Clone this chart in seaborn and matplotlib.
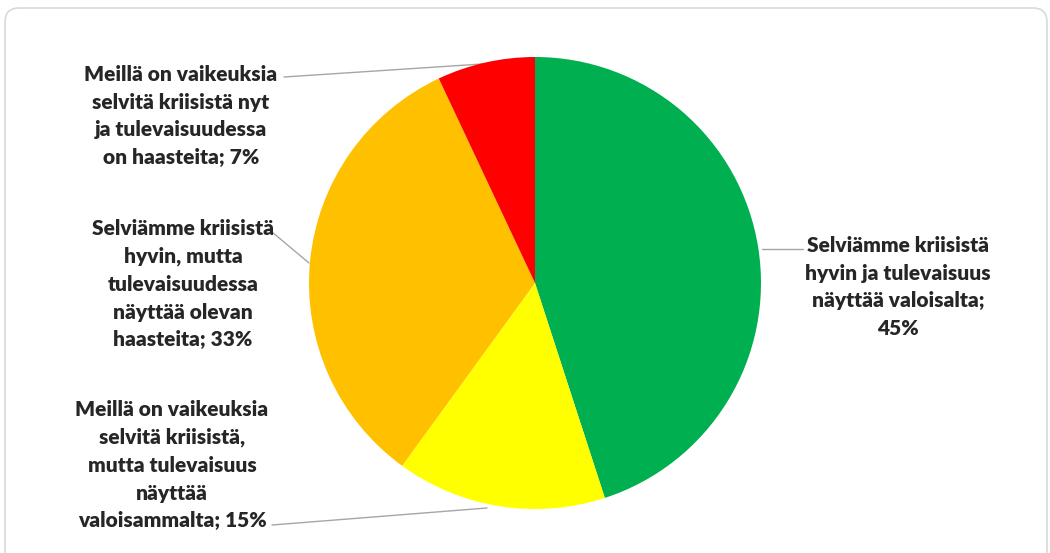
import matplotlib
matplotlib.use("Agg")
import matplotlib.pyplot as plt
from matplotlib.patches import FancyBboxPatch
import seaborn as sns

# ---- data ----
categories = [
    "Selviämme kriisistä\nhyvin ja tulevaisuus\nnäyttää valoisalta",
    "Meillä on vaikeuksia\nselvitä kriisistä,\nmutta tulevaisuus\nnäyttää\nvaloisammalta",
    "Selviämme kriisistä\nhyvin, mutta\ntulevaisuudessa\nnäyttää olevan\nhaasteita",
    "Meillä on vaikeuksia\nselvitä kriisistä nyt\nja tulevaisuudessa\non haasteita",
]
values = [45, 15, 33, 7]
colors = ["#00B050", "#FFFF00", "#FFC000", "#FF0000"]

sns.set_theme(style="white")
plt.rcParams["font.family"] = ["Lato", "DejaVu Sans"]

W, H = 1050, 553
fig = plt.figure(figsize=(W / 100, H / 100), dpi=100)
ax = fig.add_axes([0, 0, 1, 1])

# border
ax.add_patch(FancyBboxPatch((5, -20), 1042, H - 8 + 20, boxstyle="round,pad=0,rounding_size=14",
                            fc="white", ec="#d9d9d9", lw=1.2, zorder=0))

cx, cy, r = 535, H - 283, 226
wedges, _ = ax.pie(values, colors=colors, startangle=90, counterclock=False,
                   center=(cx, cy), radius=r, frame=True,
                   wedgeprops=dict(linewidth=0, zorder=2))
ax.set_xlim(0, W)
ax.set_ylim(0, H)
ax.set_aspect("equal")
ax.axis("off")

# label layout (pixel coords, y from top): text center, leader line start/end
layout = [
    dict(x=898, y=287, line=[(803, 249), (762, 249)]),
    dict(x=172, y=465, line=[(272, 525), (487, 508)]),
    dict(x=183, y=284, line=[(272, 232), (309, 263)]),
    dict(x=181, y=116, line=[(284, 77), (482, 64)]),
]
for cat, v, L in zip(categories, values, layout):
    txt = f"{cat}; {v}%"
    if v == 45:
        txt = f"{cat};\n{v}%"
    ax.text(L["x"], H - L["y"], txt, ha="center", va="center", fontsize=15,
            fontweight="heavy", color="#262626", linespacing=1.55, zorder=3)
    (x0, y0), (x1, y1) = L["line"]
    ax.plot([x0, x1], [H - y0, H - y1], color="#a6a6a6", lw=1.0, zorder=1)

fig.savefig("out.png", dpi=100)
